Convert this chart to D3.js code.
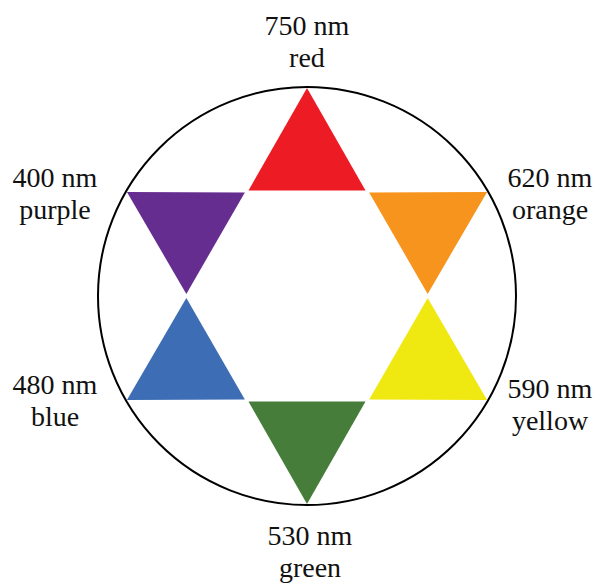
<!DOCTYPE html>
<html>
<head>
<meta charset="utf-8">
<script src="https://cdn.jsdelivr.net/npm/d3@7"></script>
<style>
  html, body { margin: 0; padding: 0; background: #fff; }
  svg { display: block; }
</style>
</head>
<body>
<svg id="chart"></svg>
<script>
// colour wheel data, one entry per triangle (counter-clockwise from the top)
var wavelengths = ["750 nm", "620 nm", "590 nm", "530 nm", "480 nm", "400 nm"];
var colorNames = ["red", "orange", "yellow", "green", "blue", "purple"];
var fills = ["#ED1C24", "#F7941D", "#F0E811", "#477D3A", "#3C6DB5", "#662D91"];
var angles = [90, 30, -30, -90, -150, 150]; // direction of the triangle tip, degrees

var svgWidth = 598, svgHeight = 584;
var cx = 307, cy = 296, R = 209;

var svg = d3.select("#chart")
    .attr("width", svgWidth)
    .attr("height", svgHeight);

// unit circle -> pixels
var x = d3.scaleLinear().domain([-1, 1]).range([cx - R, cx + R]);
var y = d3.scaleLinear().domain([-1, 1]).range([cy + R, cy - R]);

var rad = d => d * Math.PI / 180;

// a hexagram point: tip on the circle, base on the inner hexagon, shrunk a little so they don't touch
function triangle(a) {
    var tipR = 1.005, baseR = 1 / Math.sqrt(3);
    var pts = [
        [tipR * Math.cos(rad(a)), tipR * Math.sin(rad(a))],
        [baseR * Math.cos(rad(a - 30)), baseR * Math.sin(rad(a - 30))],
        [baseR * Math.cos(rad(a + 30)), baseR * Math.sin(rad(a + 30))]
    ];
    var gx = d3.mean(pts, p => p[0]), gy = d3.mean(pts, p => p[1]);
    var s = 0.97;
    return pts.map(p => [gx + (p[0] - gx) * s, gy + (p[1] - gy) * s]);
}

var line = d3.line()
    .x(d => x(d[0]))
    .y(d => y(d[1]))
    .curve(d3.curveLinearClosed);

svg.append("circle")
    .attr("cx", x(0))
    .attr("cy", y(0))
    .attr("r", x(1) - x(0))
    .attr("fill", "none")
    .attr("stroke", "#000")
    .attr("stroke-width", 2);

svg.selectAll("path.tri")
    .data(angles)
    .enter()
    .append("path")
    .attr("class", "tri")
    .attr("d", a => line(triangle(a)))
    .attr("fill", (a, i) => fills[i]);

// label placement around the wheel
function labelPos(a) {
    var c = Math.cos(rad(a)), s = Math.sin(rad(a));
    if (Math.abs(c) < 0.01) {
        // top / bottom
        return { x: x(0) + (s > 0 ? 0 : 3), y: s > 0 ? 35 : 545 };
    }
    var lx = c > 0 ? 550 : 55;
    var ly = s > 0 ? cy - 109 : cy + (c > 0 ? 102 : 98);
    return { x: lx, y: ly };
}

var labels = svg.selectAll("text.lbl")
    .data(angles)
    .enter()
    .append("text")
    .attr("class", "lbl")
    .attr("text-anchor", "middle")
    .attr("font-family", "'Liberation Serif', 'Times New Roman', serif")
    .attr("font-size", 28)
    .attr("fill", "#111");

labels.append("tspan")
    .attr("x", a => labelPos(a).x)
    .attr("y", a => labelPos(a).y)
    .text((a, i) => wavelengths[i]);

labels.append("tspan")
    .attr("x", a => labelPos(a).x)
    .attr("y", a => labelPos(a).y + 32)
    .text((a, i) => colorNames[i]);
</script>
</body>
</html>
